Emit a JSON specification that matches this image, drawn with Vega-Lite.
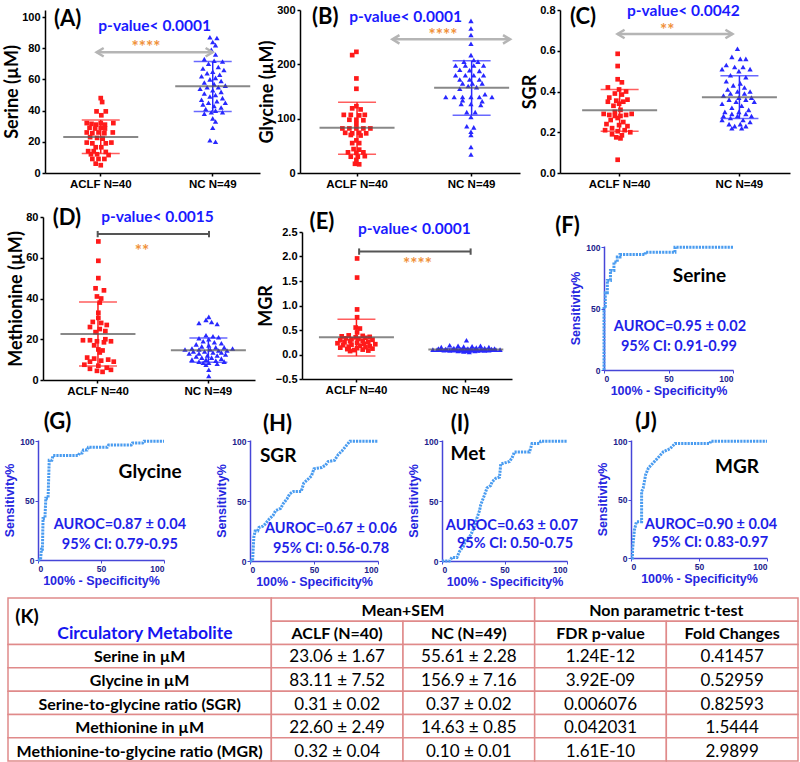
{
"$schema": "https://vega.github.io/schema/vega-lite/v6.json",
"padding": 0,
"background": "white",
"spacing": 0,
"bounds": "flush",
"config": {
  "font": "Lato",
  "view": {"stroke": null},
  "axis": {"grid": false, "domainColor": "#000", "domainWidth": 1.5, "tickColor": "#000", "tickWidth": 1.5, "tickSize": 3, "labelFont": "Liberation Sans", "labelFontWeight": "bold", "labelFontSize": 11, "labelColor": "#000", "labelPadding": 2, "titleFont": "Lato", "titleFontWeight": "bold", "titleFontSize": 18, "titleColor": "#000", "titlePadding": 0}
},
"datasets": {
  "empty": [],
  "pA": [
    {"g":"A","v":48,"d":0},{"g":"A","v":45.5,"d":0.05},{"g":"A","v":39.5,"d":-0.15},{"g":"A","v":39.5,"d":0.18},{"g":"A","v":37,"d":0.02},
    {"g":"A","v":32,"d":-0.5},{"g":"A","v":31.5,"d":-0.33},{"g":"A","v":31,"d":-0.17},{"g":"A","v":32,"d":0},{"g":"A","v":31,"d":0.15},{"g":"A","v":32,"d":0.45},
    {"g":"A","v":29,"d":-0.4},{"g":"A","v":28.5,"d":-0.2},{"g":"A","v":29,"d":0},{"g":"A","v":28.5,"d":0.15},
    {"g":"A","v":26,"d":-0.5},{"g":"A","v":25.5,"d":-0.3},{"g":"A","v":26,"d":-0.08},{"g":"A","v":25.5,"d":0.13},{"g":"A","v":26,"d":0.43},
    {"g":"A","v":23,"d":-0.38},{"g":"A","v":22.5,"d":-0.13},{"g":"A","v":22,"d":0.07},
    {"g":"A","v":19.5,"d":-0.5},{"g":"A","v":19,"d":-0.3},{"g":"A","v":19,"d":0.18},{"g":"A","v":19.5,"d":0.38},
    {"g":"A","v":16.5,"d":-0.18},{"g":"A","v":16.5,"d":0.02},
    {"g":"A","v":14,"d":-0.45},{"g":"A","v":14,"d":-0.25},{"g":"A","v":13.5,"d":0.18},
    {"g":"A","v":12,"d":-0.35},{"g":"A","v":12,"d":-0.13},{"g":"A","v":11.5,"d":0.28},
    {"g":"A","v":9,"d":-0.3},{"g":"A","v":9,"d":-0.08},{"g":"A","v":9,"d":0.13},{"g":"A","v":6,"d":-0.18},{"g":"A","v":5,"d":0},
    {"g":"N","v":87,"d":-0.1},{"g":"N","v":86.5,"d":0.15},{"g":"N","v":84,"d":0},{"g":"N","v":82,"d":0.1},{"g":"N","v":79,"d":-0.05},{"g":"N","v":76,"d":0.1},
    {"g":"N","v":73,"d":-0.3},{"g":"N","v":72,"d":0.05},{"g":"N","v":71.5,"d":0.35},{"g":"N","v":70,"d":-0.15},{"g":"N","v":68,"d":0.2},{"g":"N","v":67,"d":-0.35},
    {"g":"N","v":66,"d":0.4},{"g":"N","v":65,"d":0},{"g":"N","v":64,"d":-0.2},{"g":"N","v":63,"d":0.25},{"g":"N","v":62,"d":-0.4},{"g":"N","v":61,"d":0.1},
    {"g":"N","v":60,"d":-0.1},{"g":"N","v":59,"d":0.3},{"g":"N","v":58,"d":-0.3},{"g":"N","v":57,"d":0.05},{"g":"N","v":56,"d":0.45},{"g":"N","v":55,"d":-0.2},
    {"g":"N","v":55,"d":0.2},{"g":"N","v":54,"d":-0.45},{"g":"N","v":53,"d":0},{"g":"N","v":52,"d":0.3},{"g":"N","v":51,"d":-0.3},{"g":"N","v":50,"d":0.1},
    {"g":"N","v":49,"d":-0.1},{"g":"N","v":48,"d":0.35},{"g":"N","v":47,"d":-0.4},{"g":"N","v":46,"d":0.15},{"g":"N","v":45,"d":-0.15},{"g":"N","v":45,"d":0.45},
    {"g":"N","v":44,"d":-0.35},{"g":"N","v":43,"d":0.05},{"g":"N","v":42,"d":0.3},{"g":"N","v":41,"d":-0.25},{"g":"N","v":40,"d":0.1},{"g":"N","v":39,"d":-0.05},
    {"g":"N","v":39,"d":0.35},{"g":"N","v":38,"d":-0.3},{"g":"N","v":35,"d":0},{"g":"N","v":33,"d":0.1},{"g":"N","v":29,"d":0},{"g":"N","v":21,"d":-0.1},{"g":"N","v":20,"d":0.1}
  ],
  "sA": [{"g":"A","k":"m","v":23.06},{"g":"A","k":"lo","v":12.5},{"g":"A","k":"hi","v":34},{"g":"N","k":"m","v":55.61},{"g":"N","k":"lo","v":39.5},{"g":"N","k":"hi","v":71.5}],
  "aA": [{"k":"ar","a":0.24,"b":0.78,"v":77.4},{"k":"tt","a":0.105,"v":98.7,"t":"(A)"},{"k":"p","a":0.51,"v":94,"t":"p-value< 0.0001"},{"k":"s","a":0.47,"v":80,"t":"****"}],
  "pB": [
    {"g":"A","v":223,"d":0},{"g":"A","v":217,"d":-0.15},{"g":"A","v":174,"d":0},{"g":"A","v":155,"d":0},{"g":"A","v":123,"d":0},
    {"g":"A","v":119,"d":-0.15},{"g":"A","v":117,"d":0.15},{"g":"A","v":107,"d":-0.45},{"g":"A","v":107,"d":-0.2},{"g":"A","v":106,"d":0.1},
    {"g":"A","v":107,"d":0.3},{"g":"A","v":98,"d":-0.25},{"g":"A","v":98,"d":0},{"g":"A","v":97,"d":0.25},{"g":"A","v":90,"d":0},
    {"g":"A","v":82,"d":-0.5},{"g":"A","v":82,"d":-0.25},{"g":"A","v":82,"d":0},{"g":"A","v":82,"d":0.25},{"g":"A","v":82,"d":0.5},
    {"g":"A","v":74,"d":-0.4},{"g":"A","v":73,"d":-0.15},{"g":"A","v":74,"d":0.1},{"g":"A","v":73,"d":0.35},{"g":"A","v":70,"d":-0.2},
    {"g":"A","v":69,"d":0.15},{"g":"A","v":60,"d":0},{"g":"A","v":55,"d":-0.15},{"g":"A","v":55,"d":0.1},{"g":"A","v":44,"d":-0.1},
    {"g":"A","v":43,"d":0.1},{"g":"A","v":38,"d":-0.3},{"g":"A","v":37,"d":0},{"g":"A","v":38,"d":0.25},{"g":"A","v":30,"d":-0.2},
    {"g":"A","v":30,"d":0.05},{"g":"A","v":31,"d":0.3},{"g":"A","v":24,"d":0},{"g":"A","v":17,"d":-0.05},{"g":"A","v":16,"d":0.1},
    {"g":"N","v":280,"d":0},{"g":"N","v":266,"d":0},{"g":"N","v":254,"d":0},{"g":"N","v":238,"d":0},{"g":"N","v":217,"d":0},
    {"g":"N","v":208,"d":0.1},{"g":"N","v":205,"d":-0.25},{"g":"N","v":205,"d":0.25},{"g":"N","v":198,"d":-0.55},{"g":"N","v":198,"d":-0.2},
    {"g":"N","v":198,"d":0.1},{"g":"N","v":198,"d":0.45},{"g":"N","v":190,"d":-0.4},{"g":"N","v":189,"d":-0.05},{"g":"N","v":188,"d":0.3},
    {"g":"N","v":180,"d":-0.55},{"g":"N","v":180,"d":-0.2},{"g":"N","v":180,"d":0.1},{"g":"N","v":180,"d":0.45},{"g":"N","v":172,"d":-0.4},
    {"g":"N","v":172,"d":-0.05},{"g":"N","v":172,"d":0.3},{"g":"N","v":165,"d":-0.3},{"g":"N","v":165,"d":0.05},{"g":"N","v":165,"d":0.4},
    {"g":"N","v":160,"d":-0.1},{"g":"N","v":158,"d":0.2},{"g":"N","v":155,"d":-0.4},{"g":"N","v":145,"d":0.5},{"g":"N","v":140,"d":-0.9},
    {"g":"N","v":140,"d":-0.6},{"g":"N","v":140,"d":-0.3},{"g":"N","v":140,"d":0},{"g":"N","v":140,"d":0.3},{"g":"N","v":140,"d":0.75},
    {"g":"N","v":134,"d":-0.3},{"g":"N","v":132,"d":0.4},{"g":"N","v":127,"d":-0.35},{"g":"N","v":127,"d":0},{"g":"N","v":125,"d":0.35},
    {"g":"N","v":112,"d":-0.15},{"g":"N","v":112,"d":0.15},{"g":"N","v":103,"d":0},{"g":"N","v":86,"d":-0.15},{"g":"N","v":84,"d":0.1},
    {"g":"N","v":76,"d":0},{"g":"N","v":70,"d":0},{"g":"N","v":48,"d":0},{"g":"N","v":34,"d":0}
  ],
  "sB": [{"g":"A","k":"m","v":83.11},{"g":"A","k":"lo","v":34.4},{"g":"A","k":"hi","v":130},{"g":"N","k":"m","v":156.9},{"g":"N","k":"lo","v":106.3},{"g":"N","k":"hi","v":206.5}],
  "aB": [{"k":"ar","a":0.42,"b":0.955,"v":246},{"k":"tt","a":0.115,"v":288,"t":"(B)"},{"k":"p","a":0.48,"v":288,"t":"p-value< 0.0001"},{"k":"s","a":0.65,"v":253,"t":"****"}],
  "pC": [
    {"g":"A","v":0.585,"d":0},{"g":"A","v":0.525,"d":0},{"g":"A","v":0.46,"d":0},{"g":"A","v":0.445,"d":0.15},{"g":"A","v":0.42,"d":-0.35},
    {"g":"A","v":0.41,"d":0.05},{"g":"A","v":0.40,"d":0.3},{"g":"A","v":0.39,"d":-0.1},{"g":"A","v":0.385,"d":0.15},{"g":"A","v":0.37,"d":-0.3},
    {"g":"A","v":0.36,"d":0.35},{"g":"A","v":0.355,"d":-0.05},{"g":"A","v":0.35,"d":0.2},{"g":"A","v":0.35,"d":-0.35},{"g":"A","v":0.34,"d":0.05},
    {"g":"A","v":0.33,"d":-0.15},{"g":"A","v":0.31,"d":0.1},{"g":"A","v":0.30,"d":-0.1},{"g":"A","v":0.29,"d":-0.5},{"g":"A","v":0.29,"d":0.5},
    {"g":"A","v":0.285,"d":-0.3},{"g":"A","v":0.285,"d":0.3},{"g":"A","v":0.28,"d":-0.1},{"g":"A","v":0.28,"d":0.1},{"g":"A","v":0.27,"d":0},
    {"g":"A","v":0.26,"d":-0.25},{"g":"A","v":0.25,"d":0.2},{"g":"A","v":0.24,"d":-0.4},{"g":"A","v":0.235,"d":0.05},{"g":"A","v":0.23,"d":0.35},
    {"g":"A","v":0.22,"d":-0.2},{"g":"A","v":0.21,"d":-0.45},{"g":"A","v":0.21,"d":0.25},{"g":"A","v":0.205,"d":0},{"g":"A","v":0.2,"d":0.45},
    {"g":"A","v":0.19,"d":-0.2},{"g":"A","v":0.185,"d":0.15},{"g":"A","v":0.175,"d":-0.05},{"g":"A","v":0.17,"d":0.1},{"g":"A","v":0.065,"d":0},
    {"g":"N","v":0.61,"d":0},{"g":"N","v":0.57,"d":-0.2},{"g":"N","v":0.56,"d":0.1},{"g":"N","v":0.56,"d":0.3},{"g":"N","v":0.53,"d":-0.4},
    {"g":"N","v":0.52,"d":-0.1},{"g":"N","v":0.52,"d":0.2},{"g":"N","v":0.51,"d":0.45},{"g":"N","v":0.51,"d":-0.55},{"g":"N","v":0.50,"d":0.05},
    {"g":"N","v":0.48,"d":-0.25},{"g":"N","v":0.47,"d":0.3},{"g":"N","v":0.45,"d":-0.4},{"g":"N","v":0.44,"d":0.1},{"g":"N","v":0.43,"d":-0.15},
    {"g":"N","v":0.42,"d":0.25},{"g":"N","v":0.41,"d":-0.35},{"g":"N","v":0.40,"d":0},{"g":"N","v":0.40,"d":0.45},{"g":"N","v":0.39,"d":-0.25},
    {"g":"N","v":0.39,"d":0.25},{"g":"N","v":0.38,"d":-0.5},{"g":"N","v":0.37,"d":0.05},{"g":"N","v":0.37,"d":0.5},{"g":"N","v":0.36,"d":-0.3},
    {"g":"N","v":0.36,"d":0.3},{"g":"N","v":0.35,"d":-0.05},{"g":"N","v":0.35,"d":0.6},{"g":"N","v":0.34,"d":-0.55},{"g":"N","v":0.33,"d":0.15},
    {"g":"N","v":0.32,"d":-0.2},{"g":"N","v":0.31,"d":0.4},{"g":"N","v":0.30,"d":-0.45},{"g":"N","v":0.30,"d":0.05},{"g":"N","v":0.29,"d":-0.2},
    {"g":"N","v":0.29,"d":0.3},{"g":"N","v":0.28,"d":-0.5},{"g":"N","v":0.28,"d":0},{"g":"N","v":0.28,"d":0.5},{"g":"N","v":0.27,"d":-0.25},
    {"g":"N","v":0.26,"d":0.2},{"g":"N","v":0.26,"d":-0.55},{"g":"N","v":0.25,"d":0.45},{"g":"N","v":0.24,"d":-0.3},{"g":"N","v":0.24,"d":0.1},
    {"g":"N","v":0.23,"d":-0.1},{"g":"N","v":0.23,"d":0.3},{"g":"N","v":0.22,"d":-0.2},{"g":"N","v":0.22,"d":0.15}
  ],
  "sC": [{"g":"A","k":"m","v":0.308},{"g":"A","k":"lo","v":0.205},{"g":"A","k":"hi","v":0.41},{"g":"N","k":"m","v":0.372},{"g":"N","k":"lo","v":0.267},{"g":"N","k":"hi","v":0.477}],
  "aC": [{"k":"ar","a":0.25,"b":0.75,"v":0.682},{"k":"tt","a":0.1,"v":0.767,"t":"(C)"},{"k":"p","a":0.536,"v":0.795,"t":"p-value< 0.0042"},{"k":"s","a":0.466,"v":0.695,"t":"**"}],
  "pD": [
    {"g":"A","v":68,"d":0},{"g":"A","v":58.5,"d":0},{"g":"A","v":50,"d":0},{"g":"A","v":45,"d":-0.1},{"g":"A","v":44,"d":0.2},
    {"g":"A","v":41,"d":-0.05},{"g":"A","v":40,"d":0.1},{"g":"A","v":38,"d":0.05},{"g":"A","v":33,"d":0},{"g":"A","v":30.5,"d":0},
    {"g":"A","v":28.5,"d":-0.2},{"g":"A","v":28,"d":0.1},{"g":"A","v":27,"d":0.3},{"g":"A","v":26,"d":-0.3},{"g":"A","v":25,"d":0.05},
    {"g":"A","v":24,"d":0.25},{"g":"A","v":23.5,"d":-0.1},{"g":"A","v":20,"d":0.25},{"g":"A","v":19.5,"d":-0.55},{"g":"A","v":19.5,"d":-0.3},
    {"g":"A","v":19,"d":-0.05},{"g":"A","v":19,"d":0.45},{"g":"A","v":18.5,"d":0.2},{"g":"A","v":17,"d":-0.15},{"g":"A","v":15,"d":0},
    {"g":"A","v":14.5,"d":0.15},{"g":"A","v":13.5,"d":0.05},{"g":"A","v":11,"d":-0.4},{"g":"A","v":10.5,"d":-0.15},{"g":"A","v":10,"d":0.35},
    {"g":"A","v":9.5,"d":0.1},{"g":"A","v":9,"d":-0.3},{"g":"A","v":9,"d":0.55},{"g":"A","v":7.5,"d":-0.5},{"g":"A","v":7,"d":0},
    {"g":"A","v":6,"d":0.3},{"g":"A","v":5.5,"d":-0.3},{"g":"A","v":5,"d":0.45},{"g":"A","v":4.5,"d":-0.05},{"g":"A","v":4,"d":0.15},
    {"g":"N","v":31,"d":0},{"g":"N","v":29.5,"d":-0.1},{"g":"N","v":28.5,"d":0.1},{"g":"N","v":28,"d":-0.35},{"g":"N","v":27.5,"d":0.3},
    {"g":"N","v":22,"d":-0.1},{"g":"N","v":21.5,"d":0.15},{"g":"N","v":21,"d":0.35},{"g":"N","v":20.5,"d":-0.35},{"g":"N","v":20,"d":0},
    {"g":"N","v":19,"d":-0.2},{"g":"N","v":18.5,"d":0.2},{"g":"N","v":18,"d":0.45},{"g":"N","v":17.5,"d":-0.45},{"g":"N","v":17,"d":0},
    {"g":"N","v":16.5,"d":-0.25},{"g":"N","v":16,"d":0.25},{"g":"N","v":16,"d":0.55},{"g":"N","v":15.5,"d":-0.6},{"g":"N","v":15.5,"d":0.85},
    {"g":"N","v":15,"d":-0.85},{"g":"N","v":15,"d":-0.35},{"g":"N","v":15,"d":0.05},{"g":"N","v":14.5,"d":0.35},{"g":"N","v":14.5,"d":0.65},
    {"g":"N","v":14,"d":-0.15},{"g":"N","v":14,"d":-0.55},{"g":"N","v":13.5,"d":0.15},{"g":"N","v":13.5,"d":0.45},{"g":"N","v":13,"d":-0.35},
    {"g":"N","v":13,"d":-0.7},{"g":"N","v":12.5,"d":0.6},{"g":"N","v":12,"d":-0.05},{"g":"N","v":12,"d":0.3},{"g":"N","v":11.5,"d":-0.45},
    {"g":"N","v":11,"d":0.1},{"g":"N","v":11,"d":-0.25},{"g":"N","v":10.5,"d":0.45},{"g":"N","v":10,"d":-0.6},{"g":"N","v":10,"d":-0.1},
    {"g":"N","v":9.5,"d":0.25},{"g":"N","v":9,"d":-0.35},{"g":"N","v":9,"d":0.55},{"g":"N","v":8.5,"d":0},{"g":"N","v":8.5,"d":-0.2},
    {"g":"N","v":8,"d":0.3},{"g":"N","v":7.5,"d":-0.1},{"g":"N","v":5,"d":0},{"g":"N","v":2,"d":0}
  ],
  "sD": [{"g":"A","k":"m","v":22.6},{"g":"A","k":"lo","v":6.9},{"g":"A","k":"hi","v":38.3},{"g":"N","k":"m","v":14.63},{"g":"N","k":"lo","v":8.7},{"g":"N","k":"hi","v":20.6}],
  "aD": [{"k":"ar","a":0.258,"b":0.783,"v":71.6},{"k":"tt","a":0.113,"v":79.4,"t":"(D)"},{"k":"p","a":0.54,"v":79.9,"t":"p-value< 0.0015"},{"k":"s","a":0.467,"v":62.7,"t":"**"}],
  "pE": [
    {"g":"A","v":1.96,"d":0},{"g":"A","v":1.57,"d":0},{"g":"A","v":0.92,"d":0},{"g":"A","v":0.76,"d":0},{"g":"A","v":0.55,"d":-0.05},
    {"g":"A","v":0.53,"d":0.1},{"g":"A","v":0.45,"d":0},{"g":"A","v":0.39,"d":-0.3},{"g":"A","v":0.38,"d":0.2},{"g":"A","v":0.37,"d":-0.55},
    {"g":"A","v":0.36,"d":0.45},{"g":"A","v":0.35,"d":-0.05},{"g":"A","v":0.34,"d":0.3},{"g":"A","v":0.33,"d":-0.4},{"g":"A","v":0.32,"d":0.05},
    {"g":"A","v":0.31,"d":-0.2},{"g":"A","v":0.30,"d":0.55},{"g":"A","v":0.29,"d":-0.6},{"g":"A","v":0.28,"d":0.2},{"g":"A","v":0.27,"d":-0.25},
    {"g":"A","v":0.26,"d":0.4},{"g":"A","v":0.25,"d":-0.45},{"g":"A","v":0.24,"d":0},{"g":"A","v":0.23,"d":-0.7},{"g":"A","v":0.22,"d":0.25},
    {"g":"A","v":0.21,"d":0.65},{"g":"A","v":0.20,"d":-0.2},{"g":"A","v":0.19,"d":-0.5},{"g":"A","v":0.18,"d":0.1},{"g":"A","v":0.17,"d":0.45},
    {"g":"A","v":0.16,"d":-0.3},{"g":"A","v":0.15,"d":0.3},{"g":"A","v":0.14,"d":-0.6},{"g":"A","v":0.13,"d":0},{"g":"A","v":0.12,"d":0.55},
    {"g":"A","v":0.11,"d":-0.35},{"g":"A","v":0.10,"d":0.2},{"g":"A","v":0.09,"d":-0.1},{"g":"A","v":0.08,"d":0.4},{"g":"A","v":0.07,"d":-0.25},
    {"g":"N","v":0.29,"d":0},{"g":"N","v":0.19,"d":-0.6},{"g":"N","v":0.18,"d":-0.3},{"g":"N","v":0.18,"d":0.5},{"g":"N","v":0.17,"d":0.2},
    {"g":"N","v":0.16,"d":-0.1},{"g":"N","v":0.15,"d":0.8},{"g":"N","v":0.15,"d":-0.9},{"g":"N","v":0.14,"d":0.35},{"g":"N","v":0.13,"d":-0.45},
    {"g":"N","v":0.13,"d":0.65},{"g":"N","v":0.12,"d":-1},{"g":"N","v":0.12,"d":0.05},{"g":"N","v":0.12,"d":1},{"g":"N","v":0.11,"d":-0.75},
    {"g":"N","v":0.11,"d":-0.2},{"g":"N","v":0.11,"d":0.3},{"g":"N","v":0.11,"d":0.9},
    {"g":"N","v":0.10,"d":-1.2},{"g":"N","v":0.10,"d":-1.05},{"g":"N","v":0.10,"d":-0.9},{"g":"N","v":0.10,"d":-0.7},{"g":"N","v":0.10,"d":-0.5},
    {"g":"N","v":0.10,"d":-0.35},{"g":"N","v":0.10,"d":-0.15},{"g":"N","v":0.10,"d":0},{"g":"N","v":0.10,"d":0.15},{"g":"N","v":0.10,"d":0.35},
    {"g":"N","v":0.10,"d":0.55},{"g":"N","v":0.10,"d":0.7},{"g":"N","v":0.10,"d":0.9},{"g":"N","v":0.10,"d":1.05},{"g":"N","v":0.10,"d":1.2},
    {"g":"N","v":0.09,"d":-0.8},{"g":"N","v":0.09,"d":-0.45},{"g":"N","v":0.09,"d":-0.1},{"g":"N","v":0.09,"d":0.2},{"g":"N","v":0.09,"d":0.5},
    {"g":"N","v":0.09,"d":0.8},{"g":"N","v":0.08,"d":-0.6},{"g":"N","v":0.08,"d":-0.25},{"g":"N","v":0.08,"d":0.1},{"g":"N","v":0.08,"d":0.4},
    {"g":"N","v":0.08,"d":0.65},{"g":"N","v":0.07,"d":-0.3},{"g":"N","v":0.07,"d":0},{"g":"N","v":0.07,"d":0.3},{"g":"N","v":0.06,"d":-0.1},
    {"g":"N","v":0.05,"d":0.1}
  ],
  "sE": [{"g":"A","k":"m","v":0.35},{"g":"A","k":"lo","v":-0.03},{"g":"A","k":"hi","v":0.72},{"g":"N","k":"m","v":0.10},{"g":"N","k":"lo","v":0.08},{"g":"N","k":"hi","v":0.12}],
  "aE": [{"k":"ar","a":0.272,"b":0.803,"v":2.1},{"k":"tt","a":0.095,"v":2.7,"t":"(E)"},{"k":"p","a":0.535,"v":2.555,"t":"p-value< 0.0001"},{"k":"s","a":0.55,"v":1.82,"t":"****"}],
  "rF": [{"x":0,"y":0},{"x":0,"y":52},{"x":1,"y":52},{"x":1,"y":63},{"x":2.6,"y":63},{"x":2.6,"y":73},{"x":5,"y":73},{"x":5,"y":81},{"x":7.7,"y":81},{"x":7.7,"y":88},{"x":10.3,"y":88},{"x":10.3,"y":92},{"x":12.4,"y":92},{"x":12.4,"y":94},{"x":32,"y":94},{"x":32,"y":96},{"x":55,"y":96},{"x":55,"y":100},{"x":100,"y":100}],
  "tF": [{"k":"tt","x":-28.3,"y":117,"t":"(F)"},{"k":"n","x":74,"y":76.5,"t":"Serine"},{"k":"a","x":58.9,"y":35,"t":"AUROC=0.95 ± 0.02"},{"k":"a","x":58.1,"y":18.7,"t":"95% CI: 0.91-0.99"}],
  "rG": [{"x":0,"y":0},{"x":2,"y":0},{"x":2.7,"y":9},{"x":3.5,"y":9},{"x":4,"y":35},{"x":5.5,"y":35},{"x":6.2,"y":52},{"x":8,"y":52},{"x":8.9,"y":84},{"x":11,"y":84},{"x":12,"y":88},{"x":32,"y":88},{"x":33,"y":90},{"x":35,"y":90},{"x":36,"y":92.5},{"x":39,"y":92.5},{"x":40,"y":95},{"x":55,"y":95},{"x":56,"y":96.7},{"x":74,"y":96.7},{"x":75,"y":98.5},{"x":83,"y":98.5},{"x":84,"y":100},{"x":100,"y":100}],
  "tG": [{"k":"tt","x":15.5,"y":116,"t":"(G)"},{"k":"n","x":89,"y":74,"t":"Glycine"},{"k":"a","x":65,"y":29.7,"t":"AUROC=0.87 ± 0.04"},{"k":"a","x":65,"y":12.7,"t":"95% CI: 0.79-0.95"}],
  "rH": [{"x":0,"y":0},{"x":2,"y":0},{"x":3,"y":20},{"x":4,"y":25},{"x":6,"y":25},{"x":7,"y":28},{"x":10,"y":29},{"x":12,"y":31},{"x":15,"y":35},{"x":18,"y":38},{"x":20,"y":42},{"x":24,"y":44},{"x":26,"y":48},{"x":29,"y":52},{"x":31,"y":56},{"x":34,"y":58},{"x":40,"y":58},{"x":42,"y":65},{"x":45,"y":68},{"x":48,"y":71},{"x":50,"y":77},{"x":56,"y":78},{"x":59,"y":80},{"x":61,"y":83},{"x":66,"y":84},{"x":69,"y":89},{"x":72,"y":92},{"x":75,"y":96},{"x":78,"y":100},{"x":100,"y":100}],
  "tH": [{"k":"tt","x":21.5,"y":114,"t":"(H)"},{"k":"n","x":22,"y":87.6,"t":"SGR"},{"k":"a","x":63.3,"y":26.7,"t":"AUROC=0.67 ± 0.06"},{"k":"a","x":63.3,"y":10,"t":"95% CI: 0.56-0.78"}],
  "rI": [{"x":0,"y":0},{"x":6,"y":0},{"x":8,"y":3},{"x":12,"y":3},{"x":14,"y":8},{"x":17,"y":12},{"x":19,"y":17},{"x":22,"y":20},{"x":24,"y":24},{"x":26,"y":29},{"x":28,"y":36},{"x":30,"y":42},{"x":31,"y":47},{"x":34,"y":55},{"x":36,"y":61},{"x":39,"y":63},{"x":40,"y":66},{"x":43,"y":69},{"x":46,"y":70},{"x":47,"y":81},{"x":54,"y":83},{"x":56,"y":86},{"x":58,"y":91},{"x":70,"y":91},{"x":72,"y":98},{"x":78,"y":98},{"x":79,"y":100},{"x":100,"y":100}],
  "tI": [{"k":"tt","x":14.4,"y":114,"t":"(I)"},{"k":"n","x":20.8,"y":89.3,"t":"Met"},{"k":"a","x":56,"y":29.2,"t":"AUROC=0.63 ± 0.07"},{"k":"a","x":58.4,"y":14.2,"t":"95% CI: 0.50-0.75"}],
  "rJ": [{"x":0,"y":0},{"x":1,"y":0},{"x":1.2,"y":8},{"x":2.5,"y":24},{"x":4,"y":31},{"x":7.8,"y":31},{"x":7.8,"y":57},{"x":9,"y":60},{"x":10.8,"y":71.5},{"x":12.8,"y":77},{"x":16.5,"y":81.6},{"x":20,"y":86},{"x":23.8,"y":91},{"x":28.7,"y":93.5},{"x":32.4,"y":98},{"x":58,"y":98},{"x":58.5,"y":100},{"x":100,"y":100}],
  "tJ": [{"k":"tt","x":11,"y":116,"t":"(J)"},{"k":"n","x":78,"y":77.7,"t":"MGR"},{"k":"a","x":58.8,"y":28.5,"t":"AUROC=0.90 ± 0.04"},{"k":"a","x":58.1,"y":13,"t":"95% CI: 0.83-0.97"}],
  "cells": [
    {"x0":0,"x1":2,"y0":0,"y1":2},{"x0":2,"x1":4,"y0":0,"y1":1},{"x0":4,"x1":6,"y0":0,"y1":1},
    {"x0":2,"x1":3,"y0":1,"y1":2},{"x0":3,"x1":4,"y0":1,"y1":2},{"x0":4,"x1":5,"y0":1,"y1":2},{"x0":5,"x1":6,"y0":1,"y1":2},
    {"x0":0,"x1":2,"y0":2,"y1":3},{"x0":2,"x1":3,"y0":2,"y1":3},{"x0":3,"x1":4,"y0":2,"y1":3},{"x0":4,"x1":5,"y0":2,"y1":3},{"x0":5,"x1":6,"y0":2,"y1":3},
    {"x0":0,"x1":2,"y0":3,"y1":4},{"x0":2,"x1":3,"y0":3,"y1":4},{"x0":3,"x1":4,"y0":3,"y1":4},{"x0":4,"x1":5,"y0":3,"y1":4},{"x0":5,"x1":6,"y0":3,"y1":4},
    {"x0":0,"x1":2,"y0":4,"y1":5},{"x0":2,"x1":3,"y0":4,"y1":5},{"x0":3,"x1":4,"y0":4,"y1":5},{"x0":4,"x1":5,"y0":4,"y1":5},{"x0":5,"x1":6,"y0":4,"y1":5},
    {"x0":0,"x1":2,"y0":5,"y1":6},{"x0":2,"x1":3,"y0":5,"y1":6},{"x0":3,"x1":4,"y0":5,"y1":6},{"x0":4,"x1":5,"y0":5,"y1":6},{"x0":5,"x1":6,"y0":5,"y1":6},
    {"x0":0,"x1":2,"y0":6,"y1":7},{"x0":2,"x1":3,"y0":6,"y1":7},{"x0":3,"x1":4,"y0":6,"y1":7},{"x0":4,"x1":5,"y0":6,"y1":7},{"x0":5,"x1":6,"y0":6,"y1":7}
  ],
  "tx": [
    {"k":"K","c":0.144,"r":0.82,"t":"(K)"},
    {"k":"b","c":1.04,"r":1.55,"t":"Circulatory Metabolite"},
    {"k":"h","c":3,"r":0.55,"t":"Mean+SEM"},{"k":"h","c":5,"r":0.55,"t":"Non parametric t-test"},
    {"k":"h","c":2.5,"r":1.55,"t":"ACLF (N=40)"},{"k":"h","c":3.5,"r":1.55,"t":"NC (N=49)"},{"k":"h","c":4.5,"r":1.55,"t":"FDR p-value"},{"k":"h","c":5.5,"r":1.55,"t":"Fold Changes"},
    {"k":"l","c":1,"r":2.55,"t":"Serine in µM"},{"k":"l","c":1,"r":3.55,"t":"Glycine in µM"},{"k":"l","c":1,"r":4.58,"t":"Serine-to-glycine ratio (SGR)"},{"k":"l","c":1,"r":5.58,"t":"Methionine in µM"},{"k":"l","c":1,"r":6.6,"t":"Methionine-to-glycine ratio (MGR)"},
    {"k":"v","c":2.5,"r":2.55,"t":"23.06 ± 1.67"},{"k":"v","c":3.5,"r":2.55,"t":"55.61 ± 2.28"},{"k":"v","c":4.5,"r":2.55,"t":"1.24E-12"},{"k":"v","c":5.5,"r":2.55,"t":"0.41457"},
    {"k":"v","c":2.5,"r":3.55,"t":"83.11 ± 7.52"},{"k":"v","c":3.5,"r":3.55,"t":"156.9 ± 7.16"},{"k":"v","c":4.5,"r":3.55,"t":"3.92E-09"},{"k":"v","c":5.5,"r":3.55,"t":"0.52959"},
    {"k":"v","c":2.5,"r":4.58,"t":"0.31 ± 0.02"},{"k":"v","c":3.5,"r":4.58,"t":"0.37 ± 0.02"},{"k":"v","c":4.5,"r":4.58,"t":"0.006076"},{"k":"v","c":5.5,"r":4.58,"t":"0.82593"},
    {"k":"v","c":2.5,"r":5.58,"t":"22.60 ± 2.49"},{"k":"v","c":3.5,"r":5.58,"t":"14.63 ± 0.85"},{"k":"v","c":4.5,"r":5.58,"t":"0.042031"},{"k":"v","c":5.5,"r":5.58,"t":"1.5444"},
    {"k":"v","c":2.5,"r":6.6,"t":"0.32 ± 0.04"},{"k":"v","c":3.5,"r":6.6,"t":"0.10 ± 0.01"},{"k":"v","c":4.5,"r":6.6,"t":"1.61E-10"},{"k":"v","c":5.5,"r":6.6,"t":"2.9899"}
  ]
},
"vconcat": [
  {"width":0,"height":10,"data":{"name":"empty"},"mark":"point"},
  {"spacing": 0, "bounds": "flush", "hconcat": [
    {"width":45,"height":0,"data":{"name":"empty"},"mark":"point"},
    {
      "width": 215, "height": 163,
      "encoding": {"y": {"field": "v", "type": "quantitative", "scale": {"domain": [0, 104.5], "nice": false, "zero": false}, "axis": {"title": "Serine (µM)", "values": [0,20,40,60,80,100]}}},
      "layer": [
        {"encoding": {"x": {"field": "g", "type": "nominal", "scale": {"domain": ["A","N"], "paddingInner": 0.5, "paddingOuter": 0.21, "align": 0.59}, "axis": {"title": null, "labelAngle": 0, "labelExpr": "datum.value == 'A' ? 'ACLF N=40' : 'NC N=49'", "labelFontSize": 11.5}}},
         "layer": [
          {"data": {"name": "pA"}, "mark": {"type": "point", "filled": true, "opacity": 1}, "encoding": {"xOffset": {"field": "d", "type": "quantitative", "scale": {"domain": [-1, 1]}}, "color": {"field": "g", "type": "nominal", "scale": {"domain": ["A","N"], "range": ["#ff1a1a","#2828ff"]}, "legend": null}, "shape": {"field": "g", "type": "nominal", "scale": {"domain": ["A","N"], "range": ["square","triangle-up"]}, "legend": null}, "size": {"field": "g", "type": "nominal", "scale": {"domain": ["A","N"], "range": [22, 28]}, "legend": null}}},
          {"data": {"name": "sA"}, "transform": [{"filter": "datum.k != 'm'"}], "mark": {"type": "line", "strokeWidth": 1.5}, "encoding": {"color": {"field": "g", "type": "nominal", "legend": null}, "detail": {"field": "g"}}},
          {"data": {"name": "sA"}, "transform": [{"filter": "datum.k != 'm'"}], "mark": {"type": "tick", "size": 38, "thickness": 1.5}, "encoding": {"color": {"field": "g", "type": "nominal", "legend": null}}},
          {"data": {"name": "sA"}, "transform": [{"filter": "datum.k == 'm'"}], "mark": {"type": "tick", "size": 75, "thickness": 2, "color": "#555555"}}
         ]},
        {"data": {"name": "aA"},
         "layer": [
          {"transform": [{"filter": "datum.k == 'ar'"}], "mark": {"type": "rule", "color": "#b5b5b5", "strokeWidth": 2.5}, "encoding": {"x": {"field": "a", "type": "quantitative", "scale": {"domain": [0,1]}, "axis": null}, "x2": {"field": "b"}}},
          {"transform": [{"filter": "datum.k == 'ar'"}], "mark": {"type": "point", "shape": "M2,-1.2L0,0L2,1.2", "size": 50, "filled": false, "stroke": "#b5b5b5", "strokeWidth": 2.5, "opacity": 1}, "encoding": {"x": {"field": "a", "type": "quantitative", "scale": {"domain": [0,1]}, "axis": null}}},
          {"transform": [{"filter": "datum.k == 'ar'"}], "mark": {"type": "point", "shape": "M-2,-1.2L0,0L-2,1.2", "size": 50, "filled": false, "stroke": "#b5b5b5", "strokeWidth": 2.5, "opacity": 1}, "encoding": {"x": {"field": "b", "type": "quantitative", "scale": {"domain": [0,1]}, "axis": null}}},
          {"transform": [{"filter": "datum.k == 'tt'"}], "mark": {"type": "text", "font": "Lato", "fontWeight": "bold", "fontSize": 22, "color": "#000"}, "encoding": {"x": {"field": "a", "type": "quantitative", "scale": {"domain": [0,1]}, "axis": null}, "text": {"field": "t"}}},
          {"transform": [{"filter": "datum.k == 'p'"}], "mark": {"type": "text", "font": "Lato", "fontWeight": "bold", "fontSize": 15.5, "color": "#1a1aff"}, "encoding": {"x": {"field": "a", "type": "quantitative", "scale": {"domain": [0,1]}, "axis": null}, "text": {"field": "t"}}},
          {"transform": [{"filter": "datum.k == 's'"}], "mark": {"type": "text", "font": "Lato", "fontWeight": "bold", "fontSize": 17, "color": "#f0913a"}, "encoding": {"x": {"field": "a", "type": "quantitative", "scale": {"domain": [0,1]}, "axis": null}, "text": {"field": "t"}}}
         ]}
      ],
      "resolve": {"scale": {"x": "independent"}, "axis": {"x": "independent"}}
    },
    {"width":40,"height":0,"data":{"name":"empty"},"mark":"point"},
    {
      "width": 220, "height": 163,
      "encoding": {"y": {"field": "v", "type": "quantitative", "scale": {"domain": [0, 300], "nice": false, "zero": false}, "axis": {"title": "Glycine (µM)", "values": [0,100,200,300]}}},
      "layer": [
        {"encoding": {"x": {"field": "g", "type": "nominal", "scale": {"domain": ["A","N"], "paddingInner": 0.5, "paddingOuter": 0.21, "align": 0.59}, "axis": {"title": null, "labelAngle": 0, "labelExpr": "datum.value == 'A' ? 'ACLF N=40' : 'NC N=49'", "labelFontSize": 11.5}}},
         "layer": [
          {"data": {"name": "pB"}, "mark": {"type": "point", "filled": true, "opacity": 1}, "encoding": {"xOffset": {"field": "d", "type": "quantitative", "scale": {"domain": [-1, 1]}}, "color": {"field": "g", "type": "nominal", "scale": {"domain": ["A","N"], "range": ["#ff1a1a","#2828ff"]}, "legend": null}, "shape": {"field": "g", "type": "nominal", "scale": {"domain": ["A","N"], "range": ["square","triangle-up"]}, "legend": null}, "size": {"field": "g", "type": "nominal", "scale": {"domain": ["A","N"], "range": [22, 28]}, "legend": null}}},
          {"data": {"name": "sB"}, "transform": [{"filter": "datum.k != 'm'"}], "mark": {"type": "line", "strokeWidth": 1.5}, "encoding": {"color": {"field": "g", "type": "nominal", "legend": null}, "detail": {"field": "g"}}},
          {"data": {"name": "sB"}, "transform": [{"filter": "datum.k != 'm'"}], "mark": {"type": "tick", "size": 38, "thickness": 1.5}, "encoding": {"color": {"field": "g", "type": "nominal", "legend": null}}},
          {"data": {"name": "sB"}, "transform": [{"filter": "datum.k == 'm'"}], "mark": {"type": "tick", "size": 75, "thickness": 2, "color": "#555555"}}
         ]},
        {"data": {"name": "aB"},
         "layer": [
          {"transform": [{"filter": "datum.k == 'ar'"}], "mark": {"type": "rule", "color": "#b5b5b5", "strokeWidth": 2.5}, "encoding": {"x": {"field": "a", "type": "quantitative", "scale": {"domain": [0,1]}, "axis": null}, "x2": {"field": "b"}}},
          {"transform": [{"filter": "datum.k == 'ar'"}], "mark": {"type": "point", "shape": "M2,-1.2L0,0L2,1.2", "size": 50, "filled": false, "stroke": "#b5b5b5", "strokeWidth": 2.5, "opacity": 1}, "encoding": {"x": {"field": "a", "type": "quantitative", "scale": {"domain": [0,1]}, "axis": null}}},
          {"transform": [{"filter": "datum.k == 'ar'"}], "mark": {"type": "point", "shape": "M-2,-1.2L0,0L-2,1.2", "size": 50, "filled": false, "stroke": "#b5b5b5", "strokeWidth": 2.5, "opacity": 1}, "encoding": {"x": {"field": "b", "type": "quantitative", "scale": {"domain": [0,1]}, "axis": null}}},
          {"transform": [{"filter": "datum.k == 'tt'"}], "mark": {"type": "text", "font": "Lato", "fontWeight": "bold", "fontSize": 22, "color": "#000"}, "encoding": {"x": {"field": "a", "type": "quantitative", "scale": {"domain": [0,1]}, "axis": null}, "text": {"field": "t"}}},
          {"transform": [{"filter": "datum.k == 'p'"}], "mark": {"type": "text", "font": "Lato", "fontWeight": "bold", "fontSize": 15.5, "color": "#1a1aff"}, "encoding": {"x": {"field": "a", "type": "quantitative", "scale": {"domain": [0,1]}, "axis": null}, "text": {"field": "t"}}},
          {"transform": [{"filter": "datum.k == 's'"}], "mark": {"type": "text", "font": "Lato", "fontWeight": "bold", "fontSize": 17, "color": "#f0913a"}, "encoding": {"x": {"field": "a", "type": "quantitative", "scale": {"domain": [0,1]}, "axis": null}, "text": {"field": "t"}}}
         ]}
      ],
      "resolve": {"scale": {"x": "independent"}, "axis": {"x": "independent"}}
    },
    {"width":40,"height":0,"data":{"name":"empty"},"mark":"point"},
    {
      "width": 230, "height": 163,
      "encoding": {"y": {"field": "v", "type": "quantitative", "scale": {"domain": [0, 0.8], "nice": false, "zero": false}, "axis": {"title": "SGR", "values": [0,0.2,0.4,0.6,0.8], "format": ".1f"}}},
      "layer": [
        {"encoding": {"x": {"field": "g", "type": "nominal", "scale": {"domain": ["A","N"], "paddingInner": 0.5, "paddingOuter": 0.21, "align": 0.59}, "axis": {"title": null, "labelAngle": 0, "labelExpr": "datum.value == 'A' ? 'ACLF N=40' : 'NC N=49'", "labelFontSize": 11.5}}},
         "layer": [
          {"data": {"name": "pC"}, "mark": {"type": "point", "filled": true, "opacity": 1}, "encoding": {"xOffset": {"field": "d", "type": "quantitative", "scale": {"domain": [-1, 1]}}, "color": {"field": "g", "type": "nominal", "scale": {"domain": ["A","N"], "range": ["#ff1a1a","#2828ff"]}, "legend": null}, "shape": {"field": "g", "type": "nominal", "scale": {"domain": ["A","N"], "range": ["square","triangle-up"]}, "legend": null}, "size": {"field": "g", "type": "nominal", "scale": {"domain": ["A","N"], "range": [22, 28]}, "legend": null}}},
          {"data": {"name": "sC"}, "transform": [{"filter": "datum.k != 'm'"}], "mark": {"type": "line", "strokeWidth": 1.5}, "encoding": {"color": {"field": "g", "type": "nominal", "legend": null}, "detail": {"field": "g"}}},
          {"data": {"name": "sC"}, "transform": [{"filter": "datum.k != 'm'"}], "mark": {"type": "tick", "size": 38, "thickness": 1.5}, "encoding": {"color": {"field": "g", "type": "nominal", "legend": null}}},
          {"data": {"name": "sC"}, "transform": [{"filter": "datum.k == 'm'"}], "mark": {"type": "tick", "size": 75, "thickness": 2, "color": "#555555"}}
         ]},
        {"data": {"name": "aC"},
         "layer": [
          {"transform": [{"filter": "datum.k == 'ar'"}], "mark": {"type": "rule", "color": "#b5b5b5", "strokeWidth": 2.5}, "encoding": {"x": {"field": "a", "type": "quantitative", "scale": {"domain": [0,1]}, "axis": null}, "x2": {"field": "b"}}},
          {"transform": [{"filter": "datum.k == 'ar'"}], "mark": {"type": "point", "shape": "M2,-1.2L0,0L2,1.2", "size": 50, "filled": false, "stroke": "#b5b5b5", "strokeWidth": 2.5, "opacity": 1}, "encoding": {"x": {"field": "a", "type": "quantitative", "scale": {"domain": [0,1]}, "axis": null}}},
          {"transform": [{"filter": "datum.k == 'ar'"}], "mark": {"type": "point", "shape": "M-2,-1.2L0,0L-2,1.2", "size": 50, "filled": false, "stroke": "#b5b5b5", "strokeWidth": 2.5, "opacity": 1}, "encoding": {"x": {"field": "b", "type": "quantitative", "scale": {"domain": [0,1]}, "axis": null}}},
          {"transform": [{"filter": "datum.k == 'tt'"}], "mark": {"type": "text", "font": "Lato", "fontWeight": "bold", "fontSize": 22, "color": "#000"}, "encoding": {"x": {"field": "a", "type": "quantitative", "scale": {"domain": [0,1]}, "axis": null}, "text": {"field": "t"}}},
          {"transform": [{"filter": "datum.k == 'p'"}], "mark": {"type": "text", "font": "Lato", "fontWeight": "bold", "fontSize": 15.5, "color": "#1a1aff"}, "encoding": {"x": {"field": "a", "type": "quantitative", "scale": {"domain": [0,1]}, "axis": null}, "text": {"field": "t"}}},
          {"transform": [{"filter": "datum.k == 's'"}], "mark": {"type": "text", "font": "Lato", "fontWeight": "bold", "fontSize": 17, "color": "#f0913a"}, "encoding": {"x": {"field": "a", "type": "quantitative", "scale": {"domain": [0,1]}, "axis": null}, "text": {"field": "t"}}}
         ]}
      ],
      "resolve": {"scale": {"x": "independent"}, "axis": {"x": "independent"}}
    }
  ]},
  {"width":0,"height":207,"data":{"name":"empty"},"mark":"point"},
  {"spacing": 0, "bounds": "flush", "hconcat": [
    {"width":43,"height":0,"data":{"name":"empty"},"mark":"point"},
    {
      "width": 212, "height": 163,
      "encoding": {"y": {"field": "v", "type": "quantitative", "scale": {"domain": [0, 80], "nice": false, "zero": false}, "axis": {"title": "Methionine (µM)", "values": [0,20,40,60,80]}}},
      "layer": [
        {"encoding": {"x": {"field": "g", "type": "nominal", "scale": {"domain": ["A","N"], "paddingInner": 0.5, "paddingOuter": 0.21, "align": 0.59}, "axis": {"title": null, "labelAngle": 0, "labelExpr": "datum.value == 'A' ? 'ACLF N=40' : 'NC N=49'", "labelFontSize": 11.5}}},
         "layer": [
          {"data": {"name": "pD"}, "mark": {"type": "point", "filled": true, "opacity": 1}, "encoding": {"xOffset": {"field": "d", "type": "quantitative", "scale": {"domain": [-1, 1]}}, "color": {"field": "g", "type": "nominal", "scale": {"domain": ["A","N"], "range": ["#ff1a1a","#2828ff"]}, "legend": null}, "shape": {"field": "g", "type": "nominal", "scale": {"domain": ["A","N"], "range": ["square","triangle-up"]}, "legend": null}, "size": {"field": "g", "type": "nominal", "scale": {"domain": ["A","N"], "range": [22, 28]}, "legend": null}}},
          {"data": {"name": "sD"}, "transform": [{"filter": "datum.k != 'm'"}], "mark": {"type": "line", "strokeWidth": 1.5}, "encoding": {"color": {"field": "g", "type": "nominal", "legend": null}, "detail": {"field": "g"}}},
          {"data": {"name": "sD"}, "transform": [{"filter": "datum.k != 'm'"}], "mark": {"type": "tick", "size": 38, "thickness": 1.5}, "encoding": {"color": {"field": "g", "type": "nominal", "legend": null}}},
          {"data": {"name": "sD"}, "transform": [{"filter": "datum.k == 'm'"}], "mark": {"type": "tick", "size": 75, "thickness": 2, "color": "#555555"}}
         ]},
        {"data": {"name": "aD"},
         "layer": [
          {"transform": [{"filter": "datum.k == 'ar'"}], "mark": {"type": "rule", "color": "#555555", "strokeWidth": 2}, "encoding": {"x": {"field": "a", "type": "quantitative", "scale": {"domain": [0,1]}, "axis": null}, "x2": {"field": "b"}}},
          {"transform": [{"filter": "datum.k == 'ar'"}], "mark": {"type": "point", "shape": "M0,-1L0,1", "size": 40, "filled": false, "stroke": "#555555", "strokeWidth": 2, "opacity": 1}, "encoding": {"x": {"field": "a", "type": "quantitative", "scale": {"domain": [0,1]}, "axis": null}}},
          {"transform": [{"filter": "datum.k == 'ar'"}], "mark": {"type": "point", "shape": "M0,-1L0,1", "size": 40, "filled": false, "stroke": "#555555", "strokeWidth": 2, "opacity": 1}, "encoding": {"x": {"field": "b", "type": "quantitative", "scale": {"domain": [0,1]}, "axis": null}}},
          {"transform": [{"filter": "datum.k == 'tt'"}], "mark": {"type": "text", "font": "Lato", "fontWeight": "bold", "fontSize": 22, "color": "#000"}, "encoding": {"x": {"field": "a", "type": "quantitative", "scale": {"domain": [0,1]}, "axis": null}, "text": {"field": "t"}}},
          {"transform": [{"filter": "datum.k == 'p'"}], "mark": {"type": "text", "font": "Lato", "fontWeight": "bold", "fontSize": 15.5, "color": "#1a1aff"}, "encoding": {"x": {"field": "a", "type": "quantitative", "scale": {"domain": [0,1]}, "axis": null}, "text": {"field": "t"}}},
          {"transform": [{"filter": "datum.k == 's'"}], "mark": {"type": "text", "font": "Lato", "fontWeight": "bold", "fontSize": 17, "color": "#f0913a"}, "encoding": {"x": {"field": "a", "type": "quantitative", "scale": {"domain": [0,1]}, "axis": null}, "text": {"field": "t"}}}
         ]}
      ],
      "resolve": {"scale": {"x": "independent"}, "axis": {"x": "independent"}}
    },
    {"width":47,"height":0,"data":{"name":"empty"},"mark":"point"},
    {"spacing": 0, "bounds": "flush", "vconcat": [
      {"width":0,"height":15,"data":{"name":"empty"},"mark":"point"},
      {
        "width": 210, "height": 147,
        "encoding": {"y": {"field": "v", "type": "quantitative", "scale": {"domain": [-0.5, 2.5], "nice": false, "zero": false}, "axis": {"title": "MGR", "values": [-0.5,0,0.5,1,1.5,2,2.5], "format": ".1f", "titlePadding": 0}}},
        "layer": [
          {"encoding": {"x": {"field": "g", "type": "nominal", "scale": {"domain": ["A","N"], "paddingInner": 0.5, "paddingOuter": 0.21, "align": 0.59}, "axis": {"title": null, "labelAngle": 0, "labelExpr": "datum.value == 'A' ? 'ACLF N=40' : 'NC N=49'", "labelFontSize": 11.5}}},
           "layer": [
            {"data": {"name": "pE"}, "mark": {"type": "point", "filled": true, "opacity": 1}, "encoding": {"xOffset": {"field": "d", "type": "quantitative", "scale": {"domain": [-1, 1]}}, "color": {"field": "g", "type": "nominal", "scale": {"domain": ["A","N"], "range": ["#ff1a1a","#2828ff"]}, "legend": null}, "shape": {"field": "g", "type": "nominal", "scale": {"domain": ["A","N"], "range": ["square","triangle-up"]}, "legend": null}, "size": {"field": "g", "type": "nominal", "scale": {"domain": ["A","N"], "range": [22, 28]}, "legend": null}}},
            {"data": {"name": "sE"}, "transform": [{"filter": "datum.k != 'm'"}], "mark": {"type": "line", "strokeWidth": 1.5}, "encoding": {"color": {"field": "g", "type": "nominal", "legend": null}, "detail": {"field": "g"}}},
            {"data": {"name": "sE"}, "transform": [{"filter": "datum.k != 'm'"}], "mark": {"type": "tick", "size": 38, "thickness": 1.5}, "encoding": {"color": {"field": "g", "type": "nominal", "legend": null}}},
            {"data": {"name": "sE"}, "transform": [{"filter": "datum.k == 'm'"}], "mark": {"type": "tick", "size": 75, "thickness": 2, "color": "#555555"}}
           ]},
          {"data": {"name": "aE"},
           "layer": [
            {"transform": [{"filter": "datum.k == 'ar'"}], "mark": {"type": "rule", "color": "#555555", "strokeWidth": 2}, "encoding": {"x": {"field": "a", "type": "quantitative", "scale": {"domain": [0,1]}, "axis": null}, "x2": {"field": "b"}}},
            {"transform": [{"filter": "datum.k == 'ar'"}], "mark": {"type": "point", "shape": "M0,-1L0,1", "size": 40, "filled": false, "stroke": "#555555", "strokeWidth": 2, "opacity": 1}, "encoding": {"x": {"field": "a", "type": "quantitative", "scale": {"domain": [0,1]}, "axis": null}}},
            {"transform": [{"filter": "datum.k == 'ar'"}], "mark": {"type": "point", "shape": "M0,-1L0,1", "size": 40, "filled": false, "stroke": "#555555", "strokeWidth": 2, "opacity": 1}, "encoding": {"x": {"field": "b", "type": "quantitative", "scale": {"domain": [0,1]}, "axis": null}}},
            {"transform": [{"filter": "datum.k == 'tt'"}], "mark": {"type": "text", "font": "Lato", "fontWeight": "bold", "fontSize": 22, "color": "#000"}, "encoding": {"x": {"field": "a", "type": "quantitative", "scale": {"domain": [0,1]}, "axis": null}, "text": {"field": "t"}}},
            {"transform": [{"filter": "datum.k == 'p'"}], "mark": {"type": "text", "font": "Lato", "fontWeight": "bold", "fontSize": 15.5, "color": "#1a1aff"}, "encoding": {"x": {"field": "a", "type": "quantitative", "scale": {"domain": [0,1]}, "axis": null}, "text": {"field": "t"}}},
            {"transform": [{"filter": "datum.k == 's'"}], "mark": {"type": "text", "font": "Lato", "fontWeight": "bold", "fontSize": 17, "color": "#f0913a"}, "encoding": {"x": {"field": "a", "type": "quantitative", "scale": {"domain": [0,1]}, "axis": null}, "text": {"field": "t"}}}
           ]}
        ],
        "resolve": {"scale": {"x": "independent"}, "axis": {"x": "independent"}}
      }
    ]},
    {"width":302,"height":0,"data":{"name":"empty"},"mark":"point"},
    {"spacing": 0, "bounds": "flush", "vconcat": [
      {"width":0,"height":29,"data":{"name":"empty"},"mark":"point"},
      {
        "width": 129, "height": 124,
        "encoding": {
          "x": {"field": "x", "type": "quantitative", "scale": {"domain": [0,100], "nice": false}, "axis": {"title": "100% - Specificity%", "values": [0,50,100], "labelFontSize": 8.5, "labelColor": "#20208a", "domainColor": "#4646d8", "tickColor": "#4646d8", "tickWidth": 1, "tickSize": 3, "labelPadding": 1, "titleFont": "Liberation Sans", "titleFontSize": 12.5, "titleColor": "#2626e0", "titlePadding": 2}},
          "y": {"field": "y", "type": "quantitative", "scale": {"domain": [0,101], "nice": false}, "axis": {"title": "Sensitivity%", "values": [0,50,100], "labelFontSize": 8.5, "labelColor": "#20208a", "domainColor": "#4646d8", "tickColor": "#4646d8", "tickWidth": 1, "tickSize": 3, "labelPadding": 1, "titleFont": "Liberation Sans", "titleFontSize": 12.5, "titleColor": "#2626e0", "titlePadding": 3}}
        },
        "layer": [
          {"data": {"name": "rF"}, "mark": {"type": "line", "color": "#4a9cf0", "strokeWidth": 3, "strokeDash": [2.2, 1]}},
          {"data": {"name": "tF"}, "transform": [{"filter": "datum.k == 'tt'"}], "mark": {"type": "text", "font": "Lato", "fontWeight": "bold", "fontSize": 22, "color": "#000"}, "encoding": {"text": {"field": "t"}}},
          {"data": {"name": "tF"}, "transform": [{"filter": "datum.k == 'n'"}], "mark": {"type": "text", "font": "Lato", "fontWeight": "bold", "fontSize": 19, "color": "#000"}, "encoding": {"text": {"field": "t"}}},
          {"data": {"name": "tF"}, "transform": [{"filter": "datum.k == 'a'"}], "mark": {"type": "text", "font": "Lato", "fontWeight": "bold", "fontSize": 14.5, "color": "#1f1fe8"}, "encoding": {"text": {"field": "t"}}}
        ]
      }
    ]}
  ]},
  {"width":0,"height":223,"data":{"name":"empty"},"mark":"point"},
  {"spacing": 0, "bounds": "flush", "hconcat": [
    {"width":38,"height":0,"data":{"name":"empty"},"mark":"point"},
    {
      "width": 126, "height": 120,
      "encoding": {
        "x": {"field": "x", "type": "quantitative", "scale": {"domain": [0,100], "nice": false}, "axis": {"title": "100% - Specificity%", "values": [0,50,100], "labelFontSize": 8.5, "labelColor": "#20208a", "domainColor": "#4646d8", "tickColor": "#4646d8", "tickWidth": 1, "tickSize": 3, "labelPadding": 1, "titleFont": "Liberation Sans", "titleFontSize": 12.5, "titleColor": "#2626e0", "titlePadding": 2}},
        "y": {"field": "y", "type": "quantitative", "scale": {"domain": [0,101], "nice": false}, "axis": {"title": "Sensitivity%", "values": [0,50,100], "labelFontSize": 8.5, "labelColor": "#20208a", "domainColor": "#4646d8", "tickColor": "#4646d8", "tickWidth": 1, "tickSize": 3, "labelPadding": 1, "titleFont": "Liberation Sans", "titleFontSize": 12.5, "titleColor": "#2626e0", "titlePadding": 3}}
      },
      "layer": [
        {"data": {"name": "rG"}, "mark": {"type": "line", "color": "#4a9cf0", "strokeWidth": 3, "strokeDash": [2.2, 1]}},
        {"data": {"name": "tG"}, "transform": [{"filter": "datum.k == 'tt'"}], "mark": {"type": "text", "font": "Lato", "fontWeight": "bold", "fontSize": 22, "color": "#000"}, "encoding": {"text": {"field": "t"}}},
        {"data": {"name": "tG"}, "transform": [{"filter": "datum.k == 'n'"}], "mark": {"type": "text", "font": "Lato", "fontWeight": "bold", "fontSize": 19, "color": "#000"}, "encoding": {"text": {"field": "t"}}},
        {"data": {"name": "tG"}, "transform": [{"filter": "datum.k == 'a'"}], "mark": {"type": "text", "font": "Lato", "fontWeight": "bold", "fontSize": 14.5, "color": "#1f1fe8"}, "encoding": {"text": {"field": "t"}}}
      ]
    },
    {"width":86,"height":0,"data":{"name":"empty"},"mark":"point"},
    {
      "width": 128, "height": 121,
      "encoding": {
        "x": {"field": "x", "type": "quantitative", "scale": {"domain": [0,100], "nice": false}, "axis": {"title": "100% - Specificity%", "values": [0,50,100], "labelFontSize": 8.5, "labelColor": "#20208a", "domainColor": "#4646d8", "tickColor": "#4646d8", "tickWidth": 1, "tickSize": 3, "labelPadding": 1, "titleFont": "Liberation Sans", "titleFontSize": 12.5, "titleColor": "#2626e0", "titlePadding": 2}},
        "y": {"field": "y", "type": "quantitative", "scale": {"domain": [0,101], "nice": false}, "axis": {"title": "Sensitivity%", "values": [0,50,100], "labelFontSize": 8.5, "labelColor": "#20208a", "domainColor": "#4646d8", "tickColor": "#4646d8", "tickWidth": 1, "tickSize": 3, "labelPadding": 1, "titleFont": "Liberation Sans", "titleFontSize": 12.5, "titleColor": "#2626e0", "titlePadding": 3}}
      },
      "layer": [
        {"data": {"name": "rH"}, "mark": {"type": "line", "color": "#4a9cf0", "strokeWidth": 3, "strokeDash": [2.2, 1]}},
        {"data": {"name": "tH"}, "transform": [{"filter": "datum.k == 'tt'"}], "mark": {"type": "text", "font": "Lato", "fontWeight": "bold", "fontSize": 22, "color": "#000"}, "encoding": {"text": {"field": "t"}}},
        {"data": {"name": "tH"}, "transform": [{"filter": "datum.k == 'n'"}], "mark": {"type": "text", "font": "Lato", "fontWeight": "bold", "fontSize": 19, "color": "#000"}, "encoding": {"text": {"field": "t"}}},
        {"data": {"name": "tH"}, "transform": [{"filter": "datum.k == 'a'"}], "mark": {"type": "text", "font": "Lato", "fontWeight": "bold", "fontSize": 14.5, "color": "#1f1fe8"}, "encoding": {"text": {"field": "t"}}}
      ]
    },
    {"width":64,"height":0,"data":{"name":"empty"},"mark":"point"},
    {
      "width": 125, "height": 121,
      "encoding": {
        "x": {"field": "x", "type": "quantitative", "scale": {"domain": [0,100], "nice": false}, "axis": {"title": "100% - Specificity%", "values": [0,50,100], "labelFontSize": 8.5, "labelColor": "#20208a", "domainColor": "#4646d8", "tickColor": "#4646d8", "tickWidth": 1, "tickSize": 3, "labelPadding": 1, "titleFont": "Liberation Sans", "titleFontSize": 12.5, "titleColor": "#2626e0", "titlePadding": 2}},
        "y": {"field": "y", "type": "quantitative", "scale": {"domain": [0,101], "nice": false}, "axis": {"title": "Sensitivity%", "values": [0,50,100], "labelFontSize": 8.5, "labelColor": "#20208a", "domainColor": "#4646d8", "tickColor": "#4646d8", "tickWidth": 1, "tickSize": 3, "labelPadding": 1, "titleFont": "Liberation Sans", "titleFontSize": 12.5, "titleColor": "#2626e0", "titlePadding": 3}}
      },
      "layer": [
        {"data": {"name": "rI"}, "mark": {"type": "line", "color": "#4a9cf0", "strokeWidth": 3, "strokeDash": [2.2, 1]}},
        {"data": {"name": "tI"}, "transform": [{"filter": "datum.k == 'tt'"}], "mark": {"type": "text", "font": "Lato", "fontWeight": "bold", "fontSize": 22, "color": "#000"}, "encoding": {"text": {"field": "t"}}},
        {"data": {"name": "tI"}, "transform": [{"filter": "datum.k == 'n'"}], "mark": {"type": "text", "font": "Lato", "fontWeight": "bold", "fontSize": 19, "color": "#000"}, "encoding": {"text": {"field": "t"}}},
        {"data": {"name": "tI"}, "transform": [{"filter": "datum.k == 'a'"}], "mark": {"type": "text", "font": "Lato", "fontWeight": "bold", "fontSize": 14.5, "color": "#1f1fe8"}, "encoding": {"text": {"field": "t"}}}
      ]
    },
    {"width":64,"height":0,"data":{"name":"empty"},"mark":"point"},
    {
      "width": 136, "height": 118,
      "encoding": {
        "x": {"field": "x", "type": "quantitative", "scale": {"domain": [0,100], "nice": false}, "axis": {"title": "100% - Specificity%", "values": [0,50,100], "labelFontSize": 8.5, "labelColor": "#20208a", "domainColor": "#4646d8", "tickColor": "#4646d8", "tickWidth": 1, "tickSize": 3, "labelPadding": 1, "titleFont": "Liberation Sans", "titleFontSize": 12.5, "titleColor": "#2626e0", "titlePadding": 2}},
        "y": {"field": "y", "type": "quantitative", "scale": {"domain": [0,101], "nice": false}, "axis": {"title": "Sensitivity%", "values": [0,50,100], "labelFontSize": 8.5, "labelColor": "#20208a", "domainColor": "#4646d8", "tickColor": "#4646d8", "tickWidth": 1, "tickSize": 3, "labelPadding": 1, "titleFont": "Liberation Sans", "titleFontSize": 12.5, "titleColor": "#2626e0", "titlePadding": 3}}
      },
      "layer": [
        {"data": {"name": "rJ"}, "mark": {"type": "line", "color": "#4a9cf0", "strokeWidth": 3, "strokeDash": [2.2, 1]}},
        {"data": {"name": "tJ"}, "transform": [{"filter": "datum.k == 'tt'"}], "mark": {"type": "text", "font": "Lato", "fontWeight": "bold", "fontSize": 22, "color": "#000"}, "encoding": {"text": {"field": "t"}}},
        {"data": {"name": "tJ"}, "transform": [{"filter": "datum.k == 'n'"}], "mark": {"type": "text", "font": "Lato", "fontWeight": "bold", "fontSize": 19, "color": "#000"}, "encoding": {"text": {"field": "t"}}},
        {"data": {"name": "tJ"}, "transform": [{"filter": "datum.k == 'a'"}], "mark": {"type": "text", "font": "Lato", "fontWeight": "bold", "fontSize": 14.5, "color": "#1f1fe8"}, "encoding": {"text": {"field": "t"}}}
      ]
    }
  ]},
  {"width":0,"height":158,"data":{"name":"empty"},"mark":"point"},
  {"spacing": 0, "bounds": "flush", "hconcat": [
    {"width":8,"height":0,"data":{"name":"empty"},"mark":"point"},
    {
      "width": 790, "height": 163,
      "layer": [
        {"data": {"name": "cells"}, "mark": {"type": "rect", "fill": "white", "stroke": "#e08a8a", "strokeWidth": 1.5}, "encoding": {"x": {"field": "x0", "type": "quantitative", "scale": {"domain": [0,6], "nice": false}, "axis": null}, "x2": {"field": "x1"}, "y": {"field": "y0", "type": "quantitative", "scale": {"domain": [0,7], "nice": false, "reverse": true}, "axis": null}, "y2": {"field": "y1"}}},
        {"data": {"name": "tx"}, "transform": [{"filter": "datum.k == 'K'"}], "mark": {"type": "text", "font": "Lato", "fontWeight": "bold", "fontSize": 19, "color": "#000"}, "encoding": {"x": {"field": "c", "type": "quantitative", "scale": {"domain": [0,6], "nice": false}, "axis": null}, "y": {"field": "r", "type": "quantitative", "scale": {"domain": [0,7], "nice": false, "reverse": true}, "axis": null}, "text": {"field": "t"}}},
        {"data": {"name": "tx"}, "transform": [{"filter": "datum.k == 'b'"}], "mark": {"type": "text", "font": "Lato", "fontWeight": "bold", "fontSize": 17.5, "color": "#1515f0"}, "encoding": {"x": {"field": "c", "type": "quantitative", "scale": {"domain": [0,6], "nice": false}, "axis": null}, "y": {"field": "r", "type": "quantitative", "scale": {"domain": [0,7], "nice": false, "reverse": true}, "axis": null}, "text": {"field": "t"}}},
        {"data": {"name": "tx"}, "transform": [{"filter": "datum.k == 'h' || datum.k == 'l'"}], "mark": {"type": "text", "font": "Lato", "fontWeight": "bold", "fontSize": 16, "color": "#000"}, "encoding": {"x": {"field": "c", "type": "quantitative", "scale": {"domain": [0,6], "nice": false}, "axis": null}, "y": {"field": "r", "type": "quantitative", "scale": {"domain": [0,7], "nice": false, "reverse": true}, "axis": null}, "text": {"field": "t"}}},
        {"data": {"name": "tx"}, "transform": [{"filter": "datum.k == 'v'"}], "mark": {"type": "text", "font": "Lato", "fontSize": 17, "color": "#000"}, "encoding": {"x": {"field": "c", "type": "quantitative", "scale": {"domain": [0,6], "nice": false}, "axis": null}, "y": {"field": "r", "type": "quantitative", "scale": {"domain": [0,7], "nice": false, "reverse": true}, "axis": null}, "text": {"field": "t"}}}
      ]
    }
  ]}
]
}
